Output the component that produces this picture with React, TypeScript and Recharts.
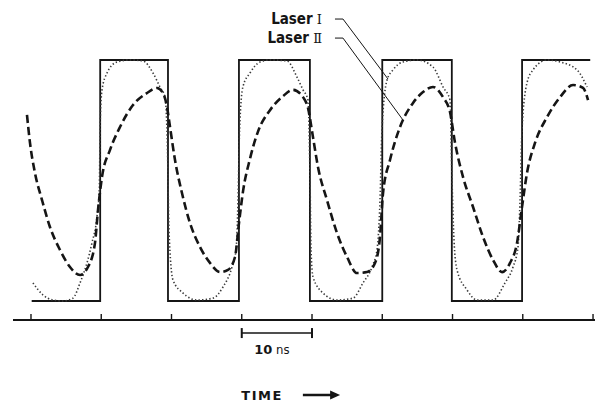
import { LineChart, Line, XAxis, YAxis, ReferenceLine } from "recharts";

// time in ns, level normalised to the drive pulse (0 = off, 1 = on)
const tickTimes = [0, 10, 20, 30, 40, 50, 60, 70, 80];

const pulseTime = [0.1, 9.85, 19.5, 29.6, 39.7, 50, 59.9, 69.9, 79.6];
const pulseLevel = [0, 1, 0, 1, 0, 1, 0, 1, 1];

const laser1Time = [
  0.28, 1.71, 3.13, 4.56, 5.98, 6.98, 7.97, 8.68, 9.39, 9.72, 9.86, 10.11, 10.82, 12.24, 14.09, 15.94, 17.37,
  18.36, 19.07, 19.43, 19.64, 20.21, 21.64, 23.63, 25.91, 27.33, 28.61, 29.18, 29.47, 29.69, 30.16, 31.17, 32.6,
  34.02, 36.44, 37.86, 38.72, 39.43, 39.72, 39.86, 40.14, 41.57, 43.56, 45.84, 47.26, 48.54, 49.25, 49.68, 49.96,
  50.68, 51.53, 52.95, 54.95, 57.22, 58.65, 59.64, 59.93, 60.21, 60.64, 62.06, 63.49, 65.77, 67.47, 68.61, 69.32,
  69.61, 69.89, 70.6, 71.46, 73.45, 75.3, 77.72, 79.15,
];
const laser1Level = [
  0.075, 0.025, 0.004, 0.0, 0.012, 0.075, 0.158, 0.241, 0.349, 0.46, 0.75, 0.876, 0.946, 0.992, 1.0, 0.996, 0.946,
  0.888, 0.846, 0.627, 0.295, 0.087, 0.033, 0.004, 0.012, 0.058, 0.141, 0.212, 0.419, 0.71, 0.888, 0.946, 0.992,
  1.0, 0.996, 0.929, 0.876, 0.834, 0.5, 0.21, 0.1, 0.033, 0.004, 0.012, 0.075, 0.141, 0.212, 0.419, 0.71,
  0.917, 0.959, 0.992, 1.0, 0.971, 0.888, 0.834, 0.5, 0.253, 0.129, 0.046, 0.004, 0.004, 0.075, 0.141, 0.224,
  0.419, 0.71, 0.905, 0.959, 1.0, 0.992, 0.959, 0.888,
];

const laser2Time = [
  -0.57, -0.14, 0.57, 1.57, 2.7, 4.13, 5.55, 6.98, 8.11, 9.11, 9.54, 10.11, 11.25, 12.67, 14.52, 16.51, 17.94,
  18.79, 19.36, 19.79, 20.5, 21.49, 22.63, 24.06, 25.48, 26.9, 28.04, 29.04, 29.61, 30.18, 31.17, 32.31, 34.02,
  35.87, 37.3, 38.72, 39.43, 40.14, 40.85, 42.13, 43.56, 44.98, 46.41, 47.83, 48.97, 49.68, 50.11, 51.1, 52.53,
  54.38, 55.8, 57.22, 58.65, 59.64, 60.36, 61.49, 62.92, 64.34, 65.77, 67.05, 68.19, 69.18, 69.89, 70.6, 71.74,
  73.45, 75.3, 77.15, 78.58, 79.29,
];
const laser2Level = [
  0.772, 0.656, 0.531, 0.419, 0.307, 0.212, 0.141, 0.108, 0.141, 0.241, 0.378, 0.515, 0.627, 0.722, 0.813, 0.863,
  0.884, 0.863, 0.805, 0.722, 0.585, 0.448, 0.324, 0.224, 0.158, 0.12, 0.129, 0.183, 0.324, 0.455, 0.59, 0.703,
  0.792, 0.85, 0.876, 0.846, 0.801, 0.68, 0.556, 0.419, 0.282, 0.183, 0.116, 0.12, 0.158, 0.266, 0.448, 0.585,
  0.722, 0.822, 0.867, 0.888, 0.846, 0.784, 0.656, 0.515, 0.39, 0.266, 0.17, 0.12, 0.158, 0.241, 0.39, 0.531,
  0.656, 0.763, 0.846, 0.896, 0.884, 0.834,
];

const zip = (t: number[], v: number[]) => t.map((x, i) => ({ t: x, v: v[i] }));

const pulseData = zip(pulseTime, pulseLevel);
const laser1Data = zip(laser1Time, laser1Level);
const laser2Data = zip(laser2Time, laser2Level);

const INK = "#151515";
const labelFont = "'Liberation Sans Narrow', 'DejaVu Sans Condensed', sans-serif";

const UpTick = ({ x, y }: any) => (
  <line x1={x} y1={y} x2={x} y2={y - 6} stroke={INK} strokeWidth={1.4} />
);

const ScaleBar = (p: any) => (
  <g>
    <line x1={p.x1} y1={p.y1} x2={p.x2} y2={p.y2} stroke={INK} strokeWidth={1.6} />
    <line x1={p.x1} y1={p.y1 - 5} x2={p.x1} y2={p.y1 + 5} stroke={INK} strokeWidth={2} />
    <line x1={p.x2} y1={p.y2 - 5} x2={p.x2} y2={p.y2 + 5} stroke={INK} strokeWidth={2} />
  </g>
);

const Arrow = (p: any) => (
  <g>
    <line x1={p.x1} y1={p.y1} x2={p.x2 - 6} y2={p.y2} stroke={INK} strokeWidth={2.4} />
    <path d={`M${p.x2},${p.y2} L${p.x2 - 10},${p.y2 - 4.5} L${p.x2 - 10},${p.y2 + 4.5} Z`} fill={INK} />
  </g>
);

const ScaleText = (props: any) => {
  const vb = props.viewBox || {};
  return (
    <text
      x={vb.x + vb.width / 2 - 5}
      y={vb.y + 21}
      textAnchor="middle"
      fill={INK}
      fontSize={13}
      fontFamily="'DejaVu Sans', sans-serif"
    >
      <tspan fontWeight={900}>10</tspan>
      <tspan fontWeight={300} fontFamily={labelFont}> ns</tspan>
    </text>
  );
};

const LaserText = ({ name, roman }: { name: string; roman: string }) => (props: any) => {
  const vb = props.viewBox || {};
  return (
    <text x={vb.x - 13} y={vb.y + 5} textAnchor="end" fill={INK} fontSize={15} fontFamily={labelFont} fontWeight={700}>
      {name}
      <tspan fontFamily="'DejaVu Serif', serif" fontWeight={400} fontSize={13}> {roman}</tspan>
    </text>
  );
};

export default function App() {
  return (
    <div style={{ position: "absolute", left: 0, top: 0, width: 595, height: 403, background: "#fff" }}>
      <LineChart width={595} height={403} margin={{ top: 10, right: 0, bottom: 0, left: 13 }}>
        <XAxis
          dataKey="t"
          type="number"
          domain={[-2.56, 80.28]}
          allowDataOverflow
          ticks={tickTimes}
          interval={0}
          height={83}
          tickSize={0}
          tickMargin={0}
          tickLine={false}
          tick={<UpTick />}
          axisLine={{ stroke: INK, strokeWidth: 2 }}
        />
        <YAxis dataKey="v" type="number" hide domain={[-0.0788, 1.2075]} allowDataOverflow />

        <Line data={pulseData} dataKey="v" type="stepAfter" stroke={INK} strokeWidth={1.8} dot={false} isAnimationActive={false} />
        <Line
          data={laser1Data}
          dataKey="v"
          type="monotone"
          stroke="#3a3a3a"
          strokeWidth={1.6}
          strokeDasharray="1.4 2.2"
          dot={false}
          isAnimationActive={false}
        />
        <Line
          data={laser2Data}
          dataKey="v"
          type="monotone"
          stroke={INK}
          strokeWidth={2.6}
          strokeDasharray="8 4"
          dot={false}
          isAnimationActive={false}
        />

        {/* leader lines for the two curve labels */}
        <ReferenceLine
          segment={[{ x: 43.27, y: 1.17 }, { x: 44.41, y: 1.17 }]}
          stroke={INK}
          strokeWidth={1}
          ifOverflow="visible"
          label={{ content: LaserText({ name: "Laser", roman: "Ⅰ" }) }}
        />
        <ReferenceLine segment={[{ x: 44.41, y: 1.17 }, { x: 50.82, y: 0.921 }]} stroke={INK} strokeWidth={1} ifOverflow="visible" />
        <ReferenceLine
          segment={[{ x: 43.27, y: 1.091 }, { x: 44.41, y: 1.091 }]}
          stroke={INK}
          strokeWidth={1}
          ifOverflow="visible"
          label={{ content: LaserText({ name: "Laser", roman: "Ⅱ" }) }}
        />
        <ReferenceLine segment={[{ x: 44.41, y: 1.091 }, { x: 52.95, y: 0.751 }]} stroke={INK} strokeWidth={1} ifOverflow="visible" />

        {/* 10 ns scale bar and time arrow below the axis */}
        <ReferenceLine
          segment={[{ x: 30, y: -0.133 }, { x: 40, y: -0.133 }]}
          ifOverflow="visible"
          shape={ScaleBar}
          label={{ content: ScaleText }}
        />
        <ReferenceLine
          segment={[{ x: 38.7, y: -0.39 }, { x: 44, y: -0.39 }]}
          ifOverflow="visible"
          shape={Arrow}
          label={{
            value: "TIME",
            position: "left",
            offset: 20,
            fill: INK,
            fontSize: 13,
            fontWeight: 900,
            fontFamily: "'DejaVu Sans', sans-serif",
            letterSpacing: 1.5,
          }}
        />
      </LineChart>
    </div>
  );
}
